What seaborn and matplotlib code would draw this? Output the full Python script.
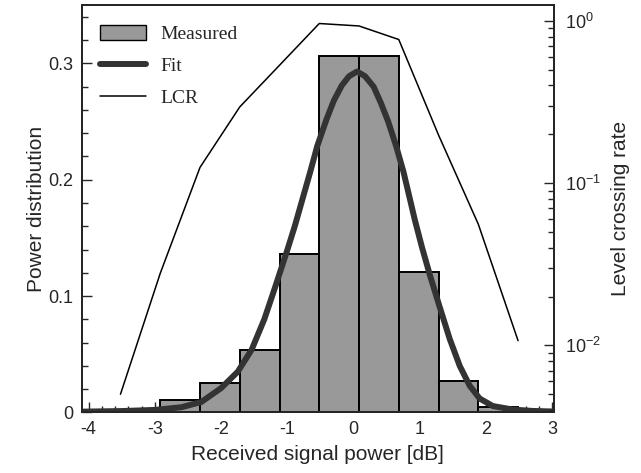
import matplotlib
matplotlib.use("Agg")
import matplotlib.pyplot as plt
import seaborn as sns
import numpy as np
from matplotlib.patches import Patch
from matplotlib.lines import Line2D
from matplotlib.ticker import MultipleLocator, NullFormatter, LogLocator

# histogram of measured power (bin edges in dB, height = probability)
bar_edges = [-4.12, -3.52, -2.92, -2.32, -1.72, -1.12, -0.52, 0.08, 0.68, 1.28, 1.88, 2.48, 3.08]
bar_heights = [0.001, 0.002, 0.011, 0.025, 0.054, 0.136, 0.306, 0.306, 0.121, 0.027, 0.005, 0.001]

# fitted distribution
fit_x = [-4.10, -3.50, -3.00, -2.60, -2.30, -2.00, -1.75, -1.54, -1.35, -1.19, -1.00, -0.89,
         -0.78, -0.66, -0.55, -0.41, -0.30, -0.18, -0.07, 0.05, 0.17, 0.30, 0.41, 0.52,
         0.64, 0.75, 0.85, 0.92, 1.03, 1.15, 1.29, 1.45, 1.60, 1.75, 1.90, 2.10, 2.40,
         2.70, 3.02]
fit_y = [0.0007, 0.0012, 0.0022, 0.0045, 0.009, 0.021, 0.035, 0.054, 0.080, 0.107, 0.140, 0.160,
         0.182, 0.206, 0.229, 0.252, 0.268, 0.281, 0.289, 0.293, 0.289, 0.280, 0.266, 0.250,
         0.229, 0.207, 0.183, 0.166, 0.142, 0.118, 0.092, 0.063, 0.040, 0.023, 0.012, 0.0055,
         0.0025, 0.0013, 0.0008]

# level crossing rate (right axis, log)
lcr_x = [-3.52, -2.92, -2.32, -1.72, -1.12, -0.52, 0.08, 0.68, 1.28, 1.88, 2.48]
lcr_y = [0.0050, 0.0278, 0.125, 0.295, 0.533, 0.964, 0.931, 0.768, 0.198, 0.0559, 0.0107]

ytick_vals = [0, 0.1, 0.2, 0.3]
ytick_labels = ["0", "0.1", "0.2", "0.3"]

sns.set_style("ticks")
plt.rcParams["font.family"] = ["Liberation Sans", "DejaVu Sans"]
plt.rcParams["axes.unicode_minus"] = False
plt.rcParams["axes.linewidth"] = 1.4

fig = plt.figure(figsize=(6.41, 4.73), dpi=100)
ax = fig.add_axes([0.128, 0.128, 0.736, 0.861])

centers = [(bar_edges[i] + bar_edges[i + 1]) / 2 for i in range(len(bar_heights))]
sns.histplot(x=centers, weights=bar_heights, bins=bar_edges, stat="count",
             color="#999999", edgecolor="black", linewidth=1.4, alpha=1, ax=ax)
sns.lineplot(x=fit_x, y=fit_y, color="#333333", linewidth=4.3, sort=False,
             estimator=None, ax=ax, zorder=3)

ax.set_xlim(-4.1, 3.02)
ax.set_ylim(0, 0.35)
ax.xaxis.set_major_locator(MultipleLocator(1))
ax.xaxis.set_minor_locator(MultipleLocator(0.2))
ax.set_yticks(ytick_vals)
ax.set_yticklabels(ytick_labels)
ax.yaxis.set_minor_locator(MultipleLocator(0.02))
ax.tick_params(which="both", direction="in", top=False, right=False, labelsize=13)
ax.tick_params(which="major", length=7, width=1, pad=6)
ax.tick_params(which="minor", length=4, width=1)
ax.set_xlabel("Received signal power [dB]", fontsize=15, labelpad=5)
ax.set_ylabel("Power distribution", fontsize=15, labelpad=2)

ax2 = ax.twinx()
sns.lineplot(x=lcr_x, y=lcr_y, color="black", linewidth=1.1, sort=False,
             estimator=None, ax=ax2)
ax2.set_yscale("log")
ax2.set_ylim(0.00386, 1.25)
ax2.yaxis.set_major_locator(LogLocator(base=10))
ax2.yaxis.set_minor_locator(LogLocator(base=10, subs=np.arange(2, 10)))
ax2.yaxis.set_minor_formatter(NullFormatter())
ax2.tick_params(which="both", direction="in", labelsize=13)
ax2.tick_params(which="major", length=7, width=1, pad=8)
ax2.tick_params(which="minor", length=4, width=1)
ax2.set_ylabel("Level crossing rate", fontsize=15, labelpad=7)
for s in ax2.spines.values():
    s.set_linewidth(1.4)

handles = [Patch(facecolor="#999999", edgecolor="black", linewidth=1.0),
           Line2D([], [], color="#333333", linewidth=4.3),
           Line2D([], [], color="black", linewidth=1.1)]
ax2.legend(handles, ["Measured", "Fit", "LCR"], loc="upper left", frameon=False,
           prop={"family": ["Liberation Serif"], "size": 14}, handlelength=2.4,
           handleheight=0.8, labelspacing=0.72, handletextpad=0.75,
           bbox_to_anchor=(0.0, 0.995))

fig.savefig("out.png", dpi=100)
